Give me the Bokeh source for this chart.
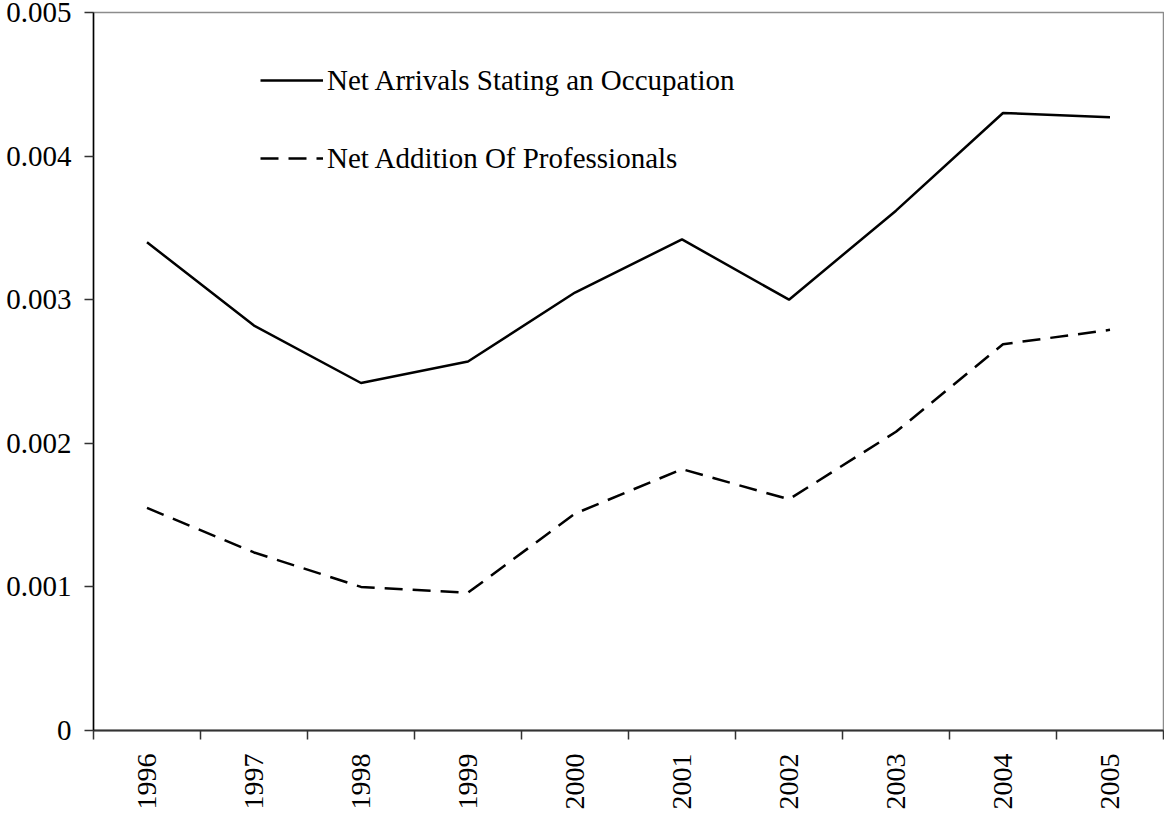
import math
from bokeh.plotting import figure
from bokeh.models import Range1d, FixedTicker, Legend, LegendItem, ColumnDataSource
from bokeh.embed import file_html
from bokeh.resources import INLINE

# ---- data ----
years = ["1996", "1997", "1998", "1999", "2000", "2001", "2002", "2003", "2004", "2005"]
net_arrivals = [0.00340, 0.00282, 0.00242, 0.00257, 0.00305, 0.00342, 0.00300, 0.00362, 0.00430, 0.00427]
net_professionals = [0.00155, 0.00124, 0.00100, 0.00096, 0.00151, 0.00182, 0.00161, 0.00208, 0.00269, 0.00279]
y_ticks = [0.0, 0.001, 0.002, 0.003, 0.004, 0.005]
y_tick_labels = ["0", "0.001", "0.002", "0.003", "0.004", "0.005"]
series_names = ["Net Arrivals Stating an Occupation", "Net Addition Of Professionals"]

FONT = "Liberation Serif"

n = len(years)
xpos = [i + 0.5 for i in range(n)]  # category centers
src = ColumnDataSource(dict(x=xpos, a=net_arrivals, p=net_professionals))

p = figure(width=1164, height=819, output_backend="svg", toolbar_location=None,
           x_range=Range1d(0, n), y_range=Range1d(0, 0.005),
           min_border_left=93, min_border_right=1, min_border_top=12, min_border_bottom=89)

p.background_fill_color = "white"
p.border_fill_color = "white"
p.outline_line_color = "#8c8c8c"
p.outline_line_width = 1.5
p.xgrid.visible = False
p.ygrid.visible = False

r1 = p.line("x", "a", source=src, line_color="black", line_width=2.5)
r2 = p.line("x", "p", source=src, line_color="black", line_width=2.5, line_dash="18 10")

# x axis: labels at category centers, ticks at category boundaries
xa = p.xaxis[0]
xa.ticker = FixedTicker(ticks=xpos, minor_ticks=list(range(n + 1)))
xa.major_label_overrides = {x: y for x, y in zip(xpos, years)}
xa.major_tick_out = 0
xa.major_tick_in = 0
xa.minor_tick_out = 9
xa.minor_tick_in = 0
xa.minor_tick_line_color = "#333333"
xa.minor_tick_line_width = 1.5
xa.axis_line_color = "#333333"
xa.axis_line_width = 2
xa.major_label_orientation = math.pi / 2
xa.major_label_standoff = 14
xa.major_label_text_font = FONT
xa.major_label_text_font_size = "28px"
xa.major_label_text_color = "black"

ya = p.yaxis[0]
ya.ticker = FixedTicker(ticks=y_ticks)
ya.major_label_overrides = {t: l for t, l in zip(y_ticks, y_tick_labels)}
ya.major_tick_out = 9
ya.major_tick_in = 0
ya.minor_tick_line_color = None
ya.major_tick_line_color = "#333333"
ya.major_tick_line_width = 1.5
ya.axis_line_color = "black"
ya.axis_line_width = 1.5
ya.major_label_standoff = 13
ya.major_label_text_font = FONT
ya.major_label_text_font_size = "29px"
ya.major_label_text_color = "black"

legend = Legend(items=[LegendItem(label=series_names[0], renderers=[r1]),
                       LegendItem(label=series_names[1], renderers=[r2])],
                location=(167, 555))
legend.glyph_width = 63
legend.glyph_height = 34
legend.label_height = 34
legend.spacing = 44
legend.label_standoff = 4
legend.padding = 0
legend.margin = 0
legend.border_line_color = None
legend.background_fill_alpha = 0
legend.label_text_font = FONT
legend.label_text_font_size = "29px"
legend.label_text_color = "black"
p.add_layout(legend, "center")

open("out.html", "w").write(file_html(p, INLINE))
